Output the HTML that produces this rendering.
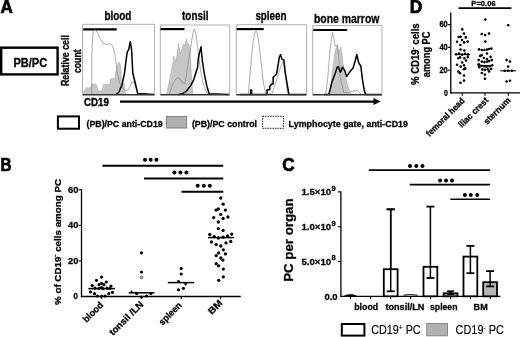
<!DOCTYPE html>
<html><head><meta charset="utf-8"><style>
html,body{margin:0;padding:0;background:#fff;width:520px;height:337px;overflow:hidden}
svg{display:block;font-family:"Liberation Sans", sans-serif;filter:blur(0.35px)}
</style></head><body>
<svg width="520" height="337" viewBox="0 0 520 337">
<text x="0.5" y="12.6" font-size="17.5" font-weight="bold" text-anchor="start" fill="#000" stroke="#000" stroke-width="0.7" textLength="12.3" lengthAdjust="spacingAndGlyphs" >A</text>
<rect x="1.2" y="47.7" width="56.4" height="26.7" fill="none" stroke="#000" stroke-width="2.4"/>
<text x="13.4" y="66.5" font-size="12" font-weight="bold" text-anchor="start" fill="#000" stroke="#000" stroke-width="0.28" textLength="33.8" lengthAdjust="spacingAndGlyphs" >PB/PC</text>
<text x="68.6" y="60.6" font-size="10.3" font-weight="bold" text-anchor="middle" fill="#000" stroke="#000" stroke-width="0.35" textLength="51" lengthAdjust="spacingAndGlyphs" transform="rotate(-90 68.6 60.6)" >Relative cell</text>
<text x="80.6" y="61.2" font-size="10.3" font-weight="bold" text-anchor="middle" fill="#000" stroke="#000" stroke-width="0.35" textLength="23.6" lengthAdjust="spacingAndGlyphs" transform="rotate(-90 80.6 61.2)" >count</text>
<path d="M82.5,94.8 L82.5,24.3 L154.6,24.3 L154.6,94.8" fill="none" stroke="#b0b0b0" stroke-width="1"/>
<path d="M160.3,94.8 L160.3,25.0 L229.7,25.0 L229.7,94.8" fill="none" stroke="#b0b0b0" stroke-width="1"/>
<path d="M236.3,94.8 L236.3,24.7 L306.6,24.7 L306.6,94.8" fill="none" stroke="#b0b0b0" stroke-width="1"/>
<path d="M312.7,94.8 L312.7,25.4 L382.0,25.4 L382.0,94.8" fill="none" stroke="#b0b0b0" stroke-width="1"/>
<text x="104.4" y="20.4" font-size="11.9" font-weight="bold" text-anchor="start" fill="#000" stroke="#000" stroke-width="0.28" textLength="27" lengthAdjust="spacingAndGlyphs" >blood</text>
<text x="182" y="20.4" font-size="11.9" font-weight="bold" text-anchor="start" fill="#000" stroke="#000" stroke-width="0.28" textLength="26.5" lengthAdjust="spacingAndGlyphs" >tonsil</text>
<text x="255.4" y="20.1" font-size="11.9" font-weight="bold" text-anchor="start" fill="#000" stroke="#000" stroke-width="0.28" textLength="31" lengthAdjust="spacingAndGlyphs" >spleen</text>
<text x="313.9" y="22.5" font-size="11.9" font-weight="bold" text-anchor="start" fill="#000" stroke="#000" stroke-width="0.28" textLength="65.5" lengthAdjust="spacingAndGlyphs" >bone marrow</text>
<line x1="83.2" y1="29.4" x2="116.7" y2="29.4" stroke="#000" stroke-width="2.2" />
<line x1="160.5" y1="29.1" x2="184.5" y2="29.1" stroke="#000" stroke-width="2.2" />
<line x1="236.6" y1="29.1" x2="263.7" y2="29.1" stroke="#000" stroke-width="2.2" />
<line x1="313.2" y1="30.0" x2="347.2" y2="30.0" stroke="#000" stroke-width="2.2" />
<path d="M83.0,94.8 L83.4,92.0 L84.0,91.5 L86.3,87.8 L90.5,87.8 L91.7,84.2 L96.0,84.2 L97.2,87.8 L98.4,90.9 L102.1,90.9 L103.3,84.2 L110.0,84.2 L110.6,78.7 L114.8,78.7 L116.0,70.8 L117.9,64.1 L119.1,61.7 L120.7,66.0 L121.5,79.3 L122.8,84.2 L124.0,83.0 L125.2,91.5 L126.0,94.8" fill="#c6c6c6" stroke="#b0b0b0" stroke-width="0.6" stroke-linejoin="round" />
<path d="M91.8,94.8 L91.8,60.0 L92.4,40.0 L93.2,31.5 L94.7,29.5 L96.0,30.5 L97.5,32.7 L100.3,38.9 L103.1,43.4 L106.0,44.2 L110.4,44.0 L112.0,45.0 L113.3,47.9 L115.3,56.6 L117.3,73.2 L119.7,83.0 L122.8,87.8 L125.0,90.5 L128.6,89.8 L131.0,84.0 L133.6,81.5 L136.0,88.0 L138.6,94.8" fill="none" stroke="#8a8a8a" stroke-width="0.7" stroke-linejoin="round" />
<path d="M116.0,94.8 L119.0,92.0 L122.0,84.9 L124.5,73.2 L126.1,60.0 L127.3,51.6 L128.6,50.0 L130.3,41.7 L131.6,50.0 L132.8,73.2 L135.3,83.2 L137.7,93.6 L154.0,94.6" fill="none" stroke="#000" stroke-width="1.5" stroke-linejoin="round" />
<path d="M166.5,94.8 L168.0,88.0 L170.0,78.0 L171.5,70.0 L172.7,65.0 L173.9,56.1 L175.0,60.0 L175.7,62.0 L177.0,55.0 L178.6,44.3 L179.5,50.0 L180.4,53.8 L182.0,49.0 L183.4,44.3 L184.5,46.0 L185.5,42.0 L186.3,38.9 L187.5,43.0 L188.5,44.0 L189.3,45.4 L190.5,53.8 L191.1,70.0 L192.0,85.0 L193.0,94.8" fill="#c6c6c6" stroke="#a8a8a8" stroke-width="0.6" stroke-linejoin="round" />
<path d="M169.3,94.8 L172.0,86.0 L175.0,80.0 L177.7,77.7 L180.0,79.0 L182.0,82.0 L184.5,84.0 L186.0,78.0 L187.5,68.0 L189.0,58.0 L190.2,51.0 L191.7,40.6 L193.0,33.0 L194.1,29.2 L195.2,31.0 L196.4,37.5 L198.0,51.0 L200.6,70.8 L203.0,83.0 L205.5,90.3 L208.0,94.8" fill="none" stroke="#8a8a8a" stroke-width="0.7" stroke-linejoin="round" />
<path d="M178.0,94.8 L183.0,93.5 L186.0,91.5 L190.9,85.4 L193.9,79.3 L195.7,73.2 L197.6,67.2 L198.4,58.0 L199.2,54.0 L200.0,51.0 L201.0,46.8 L201.8,55.0 L202.5,62.0 L204.2,73.2 L206.7,85.4 L209.1,93.7 L229.0,94.6" fill="none" stroke="#000" stroke-width="1.5" stroke-linejoin="round" />
<path d="M248.3,94.8 L249.5,80.0 L250.5,68.0 L251.5,58.0 L252.5,47.0 L253.5,39.0 L254.5,34.0 L255.5,31.6 L256.5,31.6 L257.5,34.0 L258.5,40.0 L259.5,48.0 L260.5,57.0 L261.5,66.0 L262.5,75.0 L263.5,83.0 L264.8,90.0 L266.0,94.8 L272.3,93.0 L276.0,82.0 L280.6,66.6 L283.1,61.6 L285.0,72.0 L287.3,93.0 L289.0,94.8" fill="none" stroke="#8a8a8a" stroke-width="0.7" stroke-linejoin="round" />
<path d="M240.0,94.6 L250.6,94.6 L250.6,90.0 L251.6,90.0 L251.6,94.6 L267.0,94.6 L267.0,89.8 L269.8,89.8 L269.8,86.5 L271.5,84.0 L273.1,84.0 L273.1,77.4 L274.8,75.7 L276.5,74.0 L278.1,65.0 L279.3,57.4 L280.6,54.6 L281.9,59.1 L283.9,60.0 L285.3,73.2 L287.3,84.9 L288.9,94.4 L306.0,94.6" fill="none" stroke="#000" stroke-width="1.5" stroke-linejoin="round" />
<path d="M329.9,94.8 L332.0,75.0 L334.1,58.7 L335.5,50.0 L337.3,45.0 L339.0,51.3 L341.0,47.1 L342.0,55.0 L343.6,67.1 L345.5,77.0 L347.8,86.0 L351.0,94.8" fill="#c6c6c6" stroke="#a8a8a8" stroke-width="0.6" stroke-linejoin="round" />
<path d="M325.7,94.8 L328.0,75.0 L330.0,50.0 L332.4,32.4 L333.8,38.0 L335.2,46.0 L337.3,45.0 L338.5,55.0 L340.4,77.6 L343.6,92.4 L348.0,93.0 L352.0,91.5 L355.2,90.3 L358.0,91.0 L361.5,94.8" fill="none" stroke="#8a8a8a" stroke-width="0.7" stroke-linejoin="round" />
<path d="M324.0,94.6 L328.8,94.6 L332.0,81.8 L335.2,73.4 L337.3,67.1 L338.3,66.7 L340.4,72.4 L342.5,67.1 L344.6,70.3 L346.7,76.6 L348.8,73.4 L351.0,70.3 L353.0,68.2 L355.2,60.8 L356.8,54.5 L358.7,62.9 L360.8,66.0 L362.5,79.7 L364.2,90.3 L365.7,94.4 L381.0,94.6" fill="none" stroke="#000" stroke-width="1.5" stroke-linejoin="round" />
<line x1="82.5" y1="94.8" x2="154.6" y2="94.8" stroke="#333" stroke-width="1.4" />
<line x1="160.3" y1="94.8" x2="229.7" y2="94.8" stroke="#333" stroke-width="1.4" />
<line x1="236.3" y1="94.8" x2="306.6" y2="94.8" stroke="#333" stroke-width="1.4" />
<line x1="312.7" y1="94.8" x2="382.0" y2="94.8" stroke="#333" stroke-width="1.4" />
<text x="84.0" y="106.0" font-size="10.6" font-weight="bold" text-anchor="start" fill="#000" stroke="#000" stroke-width="0.4" textLength="24.8" lengthAdjust="spacingAndGlyphs" >CD19</text>
<line x1="120" y1="101.6" x2="375" y2="101.6" stroke="#000" stroke-width="2.1" />
<path d="M373.5,98.1 L380.8,101.6 L373.5,105.1 Z" fill="#000"/>
<rect x="57.9" y="116.4" width="21.1" height="12.3" fill="#fff" stroke="#000" stroke-width="2"/>
<text x="86.5" y="126.8" font-size="8.9" font-weight="bold" text-anchor="start" fill="#000" stroke="#000" stroke-width="0.28" textLength="76.2" lengthAdjust="spacingAndGlyphs" >(PB)/PC anti-CD19</text>
<rect x="166.4" y="116.5" width="20.2" height="11.5" fill="#b0b0b0" stroke="#808080" stroke-width="1"/>
<text x="191.9" y="126.8" font-size="8.9" font-weight="bold" text-anchor="start" fill="#000" stroke="#000" stroke-width="0.28" textLength="65.1" lengthAdjust="spacingAndGlyphs" >(PB)/PC control</text>
<rect x="262.6" y="116.3" width="20.9" height="12" fill="#fff" stroke="#000" stroke-width="0.9" stroke-dasharray="1.5,1"/>
<text x="288.6" y="126.8" font-size="8.9" font-weight="bold" text-anchor="start" fill="#000" stroke="#000" stroke-width="0.28" textLength="119.4" lengthAdjust="spacingAndGlyphs" >Lymphocyte gate, anti-CD19</text>
<text x="409.8" y="12.8" font-size="17.5" font-weight="bold" text-anchor="start" fill="#000" stroke="#000" stroke-width="0.7" textLength="12.5" lengthAdjust="spacingAndGlyphs" >D</text>
<text x="471.3" y="5.7" font-size="8" font-weight="bold" text-anchor="start" fill="#000" stroke="#000" stroke-width="0.28" textLength="24.4" lengthAdjust="spacingAndGlyphs" >P=0.06</text>
<line x1="458.5" y1="8.1" x2="511.4" y2="8.1" stroke="#000" stroke-width="1.8" />
<line x1="450.8" y1="12.5" x2="450.8" y2="93.60000000000001" stroke="#000" stroke-width="1.3" />
<line x1="450.2" y1="92.9" x2="520" y2="92.9" stroke="#000" stroke-width="1.3" />
<line x1="447.8" y1="70.14000000000001" x2="450.8" y2="70.14000000000001" stroke="#000" stroke-width="1.1" />
<line x1="447.8" y1="47.38000000000001" x2="450.8" y2="47.38000000000001" stroke="#000" stroke-width="1.1" />
<line x1="447.8" y1="24.620000000000005" x2="450.8" y2="24.620000000000005" stroke="#000" stroke-width="1.1" />
<line x1="462.2" y1="92.9" x2="462.2" y2="95.7" stroke="#000" stroke-width="1.1" />
<line x1="485" y1="92.9" x2="485" y2="95.7" stroke="#000" stroke-width="1.1" />
<line x1="508.3" y1="92.9" x2="508.3" y2="95.7" stroke="#000" stroke-width="1.1" />
<text x="447.8" y="27.020000000000003" font-size="8.6" font-weight="bold" text-anchor="end" fill="#000" stroke="#000" stroke-width="0.28" textLength="8.4" lengthAdjust="spacingAndGlyphs" >60</text>
<text x="447.8" y="49.78000000000001" font-size="8.6" font-weight="bold" text-anchor="end" fill="#000" stroke="#000" stroke-width="0.28" textLength="8.4" lengthAdjust="spacingAndGlyphs" >40</text>
<text x="447.8" y="72.54000000000002" font-size="8.6" font-weight="bold" text-anchor="end" fill="#000" stroke="#000" stroke-width="0.28" textLength="8.4" lengthAdjust="spacingAndGlyphs" >20</text>
<text x="447.9" y="95.60000000000001" font-size="8.6" font-weight="bold" text-anchor="end" fill="#000" stroke="#000" stroke-width="0.28" textLength="3.9" lengthAdjust="spacingAndGlyphs" >0</text>
<text x="418.6" y="54.2" font-size="10.2" font-weight="bold" text-anchor="middle" fill="#000" stroke="#000" stroke-width="0.28" textLength="61.7" lengthAdjust="spacingAndGlyphs" transform="rotate(-90 418.6 54.2)" >% CD19<tspan font-size="6.2" dy="-3.9">-</tspan><tspan dy="3.9"> cells</tspan></text>
<text x="429.6" y="54.4" font-size="10.2" font-weight="bold" text-anchor="middle" fill="#000" stroke="#000" stroke-width="0.28" textLength="45.6" lengthAdjust="spacingAndGlyphs" transform="rotate(-90 429.6 54.4)" >among PC</text>
<text x="465.3" y="101.3" font-size="8.8" font-weight="bold" text-anchor="end" fill="#000" stroke="#000" stroke-width="0.28" textLength="50.5" lengthAdjust="spacingAndGlyphs" transform="rotate(-45 465.3 101.3)" >femoral head</text>
<text x="489.1" y="100.9" font-size="8.8" font-weight="bold" text-anchor="end" fill="#000" stroke="#000" stroke-width="0.28" textLength="38.5" lengthAdjust="spacingAndGlyphs" transform="rotate(-45 489.1 100.9)" >iliac crest</text>
<text x="511.2" y="100.9" font-size="8.8" font-weight="bold" text-anchor="end" fill="#000" stroke="#000" stroke-width="0.28" textLength="34" lengthAdjust="spacingAndGlyphs" transform="rotate(-45 511.2 100.9)" >sternum</text>
<circle cx="462.3" cy="29.4" r="1.3" fill="#000"/>
<circle cx="464" cy="33.6" r="1.3" fill="#000"/>
<circle cx="458.7" cy="37.1" r="1.3" fill="#000"/>
<circle cx="460.7" cy="36.7" r="1.3" fill="#000"/>
<circle cx="465.8" cy="37.4" r="1.3" fill="#000"/>
<circle cx="462" cy="40" r="1.3" fill="#000"/>
<circle cx="457.1" cy="41.8" r="1.3" fill="#000"/>
<circle cx="464" cy="42.4" r="1.3" fill="#000"/>
<circle cx="467.6" cy="41.6" r="1.3" fill="#000"/>
<circle cx="460.4" cy="45" r="1.3" fill="#000"/>
<circle cx="460.6" cy="49.5" r="1.3" fill="#000"/>
<circle cx="464.3" cy="50.5" r="1.3" fill="#000"/>
<circle cx="456" cy="54.2" r="1.3" fill="#000"/>
<circle cx="459" cy="53.6" r="1.3" fill="#000"/>
<circle cx="462" cy="54.6" r="1.3" fill="#000"/>
<circle cx="465" cy="53.8" r="1.3" fill="#000"/>
<circle cx="468" cy="54.4" r="1.3" fill="#000"/>
<circle cx="458.3" cy="58.3" r="1.3" fill="#000"/>
<circle cx="460.1" cy="57.4" r="1.3" fill="#000"/>
<circle cx="464.3" cy="58.3" r="1.3" fill="#000"/>
<circle cx="466" cy="60.5" r="1.3" fill="#000"/>
<circle cx="467.8" cy="57.1" r="1.3" fill="#000"/>
<circle cx="462.2" cy="62.5" r="1.3" fill="#000"/>
<circle cx="457.1" cy="64.8" r="1.3" fill="#000"/>
<circle cx="460.7" cy="66.6" r="1.3" fill="#000"/>
<circle cx="464" cy="65.4" r="1.3" fill="#000"/>
<circle cx="465.2" cy="68.4" r="1.3" fill="#000"/>
<circle cx="464" cy="69.2" r="1.3" fill="#000"/>
<circle cx="458.3" cy="71.6" r="1.3" fill="#000"/>
<circle cx="460.1" cy="73.2" r="1.3" fill="#000"/>
<circle cx="464" cy="75.5" r="1.3" fill="#000"/>
<circle cx="464" cy="80.6" r="1.3" fill="#000"/>
<circle cx="460.5" cy="82.7" r="1.3" fill="#000"/>
<circle cx="485.4" cy="19.6" r="1.3" fill="#000"/>
<circle cx="481.7" cy="34" r="1.3" fill="#000"/>
<circle cx="485.1" cy="35" r="1.3" fill="#000"/>
<circle cx="489" cy="33.6" r="1.3" fill="#000"/>
<circle cx="485.4" cy="41.6" r="1.3" fill="#000"/>
<circle cx="479" cy="49.4" r="1.3" fill="#000"/>
<circle cx="481.8" cy="50" r="1.3" fill="#000"/>
<circle cx="484.4" cy="50" r="1.3" fill="#000"/>
<circle cx="487" cy="49.6" r="1.3" fill="#000"/>
<circle cx="489.1" cy="49" r="1.3" fill="#000"/>
<circle cx="491.4" cy="48.6" r="1.3" fill="#000"/>
<circle cx="487" cy="53.5" r="1.3" fill="#000"/>
<circle cx="480.2" cy="55.9" r="1.3" fill="#000"/>
<circle cx="481.8" cy="55.2" r="1.3" fill="#000"/>
<circle cx="483.9" cy="58" r="1.3" fill="#000"/>
<circle cx="490.6" cy="56.9" r="1.3" fill="#000"/>
<circle cx="487" cy="59" r="1.3" fill="#000"/>
<circle cx="478.7" cy="60.1" r="1.3" fill="#000"/>
<circle cx="491.7" cy="60.1" r="1.3" fill="#000"/>
<circle cx="481.8" cy="61.6" r="1.3" fill="#000"/>
<circle cx="484.4" cy="62.1" r="1.3" fill="#000"/>
<circle cx="487" cy="61.6" r="1.3" fill="#000"/>
<circle cx="489.1" cy="61.1" r="1.3" fill="#000"/>
<circle cx="478.7" cy="64.2" r="1.3" fill="#000"/>
<circle cx="481.3" cy="65.8" r="1.3" fill="#000"/>
<circle cx="483.9" cy="66.3" r="1.3" fill="#000"/>
<circle cx="486.5" cy="66.8" r="1.3" fill="#000"/>
<circle cx="489.6" cy="66.3" r="1.3" fill="#000"/>
<circle cx="492.2" cy="65.2" r="1.3" fill="#000"/>
<circle cx="479.2" cy="67.3" r="1.3" fill="#000"/>
<circle cx="482.3" cy="69.4" r="1.3" fill="#000"/>
<circle cx="484.9" cy="69.9" r="1.3" fill="#000"/>
<circle cx="488" cy="69.4" r="1.3" fill="#000"/>
<circle cx="491.1" cy="68.9" r="1.3" fill="#000"/>
<circle cx="489.1" cy="71.5" r="1.3" fill="#000"/>
<circle cx="481.8" cy="73" r="1.3" fill="#000"/>
<circle cx="484.9" cy="74.6" r="1.3" fill="#000"/>
<circle cx="484.9" cy="78.7" r="1.3" fill="#000"/>
<circle cx="508.2" cy="25.2" r="1.3" fill="#000"/>
<circle cx="506.6" cy="60.1" r="1.3" fill="#000"/>
<circle cx="510" cy="61.6" r="1.3" fill="#000"/>
<circle cx="508.1" cy="66.6" r="1.3" fill="#000"/>
<circle cx="504.8" cy="70.8" r="1.3" fill="#000"/>
<circle cx="508.1" cy="70.8" r="1.3" fill="#000"/>
<circle cx="512" cy="70.8" r="1.3" fill="#000"/>
<circle cx="506.6" cy="81.5" r="1.3" fill="#000"/>
<circle cx="510" cy="80.7" r="1.3" fill="#000"/>
<line x1="454.7" y1="54.6" x2="470" y2="54.6" stroke="#000" stroke-width="1.1" />
<line x1="477.5" y1="65.6" x2="493" y2="65.6" stroke="#000" stroke-width="1.1" />
<line x1="500.4" y1="70.8" x2="516" y2="70.8" stroke="#000" stroke-width="1.1" />
<text x="0.5" y="170.8" font-size="17.5" font-weight="bold" text-anchor="start" fill="#000" stroke="#000" stroke-width="0.7" textLength="11" lengthAdjust="spacingAndGlyphs" >B</text>
<line x1="81.5" y1="189.30200000000002" x2="81.5" y2="297.1" stroke="#000" stroke-width="1.3" />
<line x1="80.9" y1="296.5" x2="240.7" y2="296.5" stroke="#000" stroke-width="1.3" />
<line x1="78.5" y1="260.93399999999997" x2="81.5" y2="260.93399999999997" stroke="#000" stroke-width="1.1" />
<line x1="78.5" y1="225.368" x2="81.5" y2="225.368" stroke="#000" stroke-width="1.1" />
<line x1="78.5" y1="189.80200000000002" x2="81.5" y2="189.80200000000002" stroke="#000" stroke-width="1.1" />
<line x1="101.6" y1="296.5" x2="101.6" y2="299.1" stroke="#000" stroke-width="1.1" />
<line x1="141.5" y1="296.5" x2="141.5" y2="299.1" stroke="#000" stroke-width="1.1" />
<line x1="181.2" y1="296.5" x2="181.2" y2="299.1" stroke="#000" stroke-width="1.1" />
<line x1="220.6" y1="296.5" x2="220.6" y2="299.1" stroke="#000" stroke-width="1.1" />
<text x="78.5" y="192.60200000000003" font-size="9.3" font-weight="bold" text-anchor="end" fill="#000" stroke="#000" stroke-width="0.28" textLength="10.4" lengthAdjust="spacingAndGlyphs" >60</text>
<text x="78.5" y="228.168" font-size="9.3" font-weight="bold" text-anchor="end" fill="#000" stroke="#000" stroke-width="0.28" textLength="10.4" lengthAdjust="spacingAndGlyphs" >40</text>
<text x="78.5" y="263.734" font-size="9.3" font-weight="bold" text-anchor="end" fill="#000" stroke="#000" stroke-width="0.28" textLength="10.4" lengthAdjust="spacingAndGlyphs" >20</text>
<text x="78.0" y="299.2" font-size="9.3" font-weight="bold" text-anchor="end" fill="#000" stroke="#000" stroke-width="0.28" textLength="4.4" lengthAdjust="spacingAndGlyphs" >0</text>
<text x="61" y="242" font-size="9.2" font-weight="bold" text-anchor="middle" fill="#000" stroke="#000" stroke-width="0.28" textLength="126" lengthAdjust="spacingAndGlyphs" transform="rotate(-90 61 242)" >% of CD19<tspan font-size="6" dy="-3.8">-</tspan><tspan dy="3.8"> cells among PC</tspan></text>
<line x1="102.4" y1="165.7" x2="223.3" y2="165.7" stroke="#000" stroke-width="2" />
<circle cx="145" cy="159.7" r="2.0" fill="#000"/>
<circle cx="150.65" cy="159.7" r="2.0" fill="#000"/>
<circle cx="156.4" cy="159.7" r="2.0" fill="#000"/>
<line x1="144" y1="178.6" x2="223.3" y2="178.6" stroke="#000" stroke-width="2" />
<circle cx="174.4" cy="172.6" r="2.0" fill="#000"/>
<circle cx="180.4" cy="172.6" r="2.0" fill="#000"/>
<circle cx="186.4" cy="172.6" r="2.0" fill="#000"/>
<line x1="181.5" y1="191.8" x2="223.3" y2="191.8" stroke="#000" stroke-width="2" />
<circle cx="197.7" cy="185.8" r="2.0" fill="#000"/>
<circle cx="203.8" cy="185.8" r="2.0" fill="#000"/>
<circle cx="209.8" cy="185.8" r="2.0" fill="#000"/>
<circle cx="101.6" cy="277.1" r="1.6" fill="#000"/>
<circle cx="96.5" cy="280.3" r="1.6" fill="#000"/>
<circle cx="106.3" cy="282" r="1.6" fill="#000"/>
<circle cx="99" cy="284.7" r="1.6" fill="#000"/>
<circle cx="101.6" cy="283.4" r="1.6" fill="#000"/>
<circle cx="103.9" cy="284.7" r="1.6" fill="#000"/>
<circle cx="92.3" cy="285.6" r="1.6" fill="#000"/>
<circle cx="111" cy="286" r="1.6" fill="#000"/>
<circle cx="95" cy="288.2" r="1.6" fill="#000"/>
<circle cx="99" cy="288.4" r="1.6" fill="#000"/>
<circle cx="103" cy="288.6" r="1.6" fill="#000"/>
<circle cx="107" cy="288.2" r="1.6" fill="#000"/>
<circle cx="110" cy="288.4" r="1.6" fill="#000"/>
<circle cx="101.6" cy="287.6" r="1.6" fill="#000"/>
<circle cx="90.5" cy="291.9" r="1.6" fill="#000"/>
<circle cx="94.5" cy="293.7" r="1.6" fill="#000"/>
<circle cx="108.8" cy="293.7" r="1.6" fill="#000"/>
<circle cx="112.4" cy="292.3" r="1.6" fill="#000"/>
<circle cx="97.5" cy="296" r="1.6" fill="#000"/>
<circle cx="101.5" cy="296.3" r="1.6" fill="#000"/>
<circle cx="105" cy="296" r="1.6" fill="#000"/>
<line x1="88.3" y1="288.6" x2="115" y2="288.6" stroke="#000" stroke-width="1.5" />
<circle cx="141.5" cy="252.8" r="1.6" fill="#000"/>
<circle cx="141.5" cy="272" r="1.6" fill="#000"/>
<circle cx="136.7" cy="293.4" r="1.6" fill="#000"/>
<circle cx="150.9" cy="293.4" r="1.6" fill="#000"/>
<circle cx="141.5" cy="297" r="1.6" fill="#000"/>
<circle cx="146.5" cy="296" r="1.6" fill="#000"/>
<circle cx="141.5" cy="277.4" r="1.4" fill="#aaa" stroke="#555" stroke-width="0.7"/>
<path d="M129.6,293 L131.4,290 L133.2,293 Z" fill="#000"/>
<line x1="128.7" y1="292.8" x2="154.5" y2="292.8" stroke="#000" stroke-width="1.5" />
<circle cx="181.2" cy="268.5" r="1.6" fill="#000"/>
<circle cx="181.2" cy="274" r="1.6" fill="#000"/>
<circle cx="178.5" cy="281.5" r="1.6" fill="#000"/>
<circle cx="178.5" cy="289.8" r="1.6" fill="#000"/>
<circle cx="183.4" cy="288.3" r="1.6" fill="#000"/>
<path d="M183.6,283.2 L187.6,283.2 L185.6,286 Z" fill="#000"/>
<line x1="167.8" y1="282.6" x2="194.2" y2="282.6" stroke="#000" stroke-width="1.5" />
<circle cx="220.8" cy="198" r="1.65" fill="#000"/>
<circle cx="223.1" cy="204.2" r="1.65" fill="#000"/>
<circle cx="216" cy="210.1" r="1.65" fill="#000"/>
<circle cx="218.3" cy="209" r="1.65" fill="#000"/>
<circle cx="225.4" cy="210.1" r="1.65" fill="#000"/>
<circle cx="220.8" cy="214.4" r="1.65" fill="#000"/>
<circle cx="213.7" cy="217.6" r="1.65" fill="#000"/>
<circle cx="223.1" cy="218.5" r="1.65" fill="#000"/>
<circle cx="227.9" cy="217" r="1.65" fill="#000"/>
<circle cx="218.3" cy="222" r="1.65" fill="#000"/>
<circle cx="218.3" cy="228.6" r="1.65" fill="#000"/>
<circle cx="223.1" cy="230.4" r="1.65" fill="#000"/>
<circle cx="209.8" cy="234.5" r="1.65" fill="#000"/>
<circle cx="214.2" cy="236.6" r="1.65" fill="#000"/>
<circle cx="218.3" cy="238" r="1.65" fill="#000"/>
<circle cx="223.1" cy="237.2" r="1.65" fill="#000"/>
<circle cx="227.6" cy="236" r="1.65" fill="#000"/>
<circle cx="231.7" cy="234.1" r="1.65" fill="#000"/>
<circle cx="211.4" cy="241.9" r="1.65" fill="#000"/>
<circle cx="216.2" cy="244.6" r="1.65" fill="#000"/>
<circle cx="220.8" cy="246" r="1.65" fill="#000"/>
<circle cx="226" cy="242.9" r="1.65" fill="#000"/>
<circle cx="230.8" cy="241.4" r="1.65" fill="#000"/>
<circle cx="223.3" cy="249.8" r="1.65" fill="#000"/>
<circle cx="218.7" cy="252.9" r="1.65" fill="#000"/>
<circle cx="225.4" cy="253.9" r="1.65" fill="#000"/>
<circle cx="216.2" cy="255.6" r="1.65" fill="#000"/>
<circle cx="220.8" cy="258" r="1.65" fill="#000"/>
<circle cx="222.9" cy="260.1" r="1.65" fill="#000"/>
<circle cx="216.2" cy="263.7" r="1.65" fill="#000"/>
<circle cx="218.7" cy="265.8" r="1.65" fill="#000"/>
<circle cx="223.3" cy="269.1" r="1.65" fill="#000"/>
<circle cx="223.3" cy="276.8" r="1.65" fill="#000"/>
<circle cx="218.7" cy="280.3" r="1.65" fill="#000"/>
<line x1="208" y1="237.6" x2="233.8" y2="237.6" stroke="#000" stroke-width="1.5" />
<text x="103.8" y="305.6" font-size="9.4" font-weight="bold" text-anchor="end" fill="#000" stroke="#000" stroke-width="0.28" textLength="24.5" lengthAdjust="spacingAndGlyphs" transform="rotate(-45 103.8 305.6)" >blood</text>
<text x="144.0" y="305.0" font-size="9.4" font-weight="bold" text-anchor="end" fill="#000" stroke="#000" stroke-width="0.28" textLength="44" lengthAdjust="spacingAndGlyphs" transform="rotate(-45 144.0 305.0)" >tonsil /LN</text>
<text x="182.4" y="306.0" font-size="9.4" font-weight="bold" text-anchor="end" fill="#000" stroke="#000" stroke-width="0.28" textLength="28" lengthAdjust="spacingAndGlyphs" transform="rotate(-45 182.4 306.0)" >spleen</text>
<text x="223.0" y="303.6" font-size="9.4" font-weight="bold" text-anchor="end" fill="#000" stroke="#000" stroke-width="0.28" textLength="16" lengthAdjust="spacingAndGlyphs" transform="rotate(-45 223.0 303.6)" >BM</text>
<text x="282.3" y="170.9" font-size="17.5" font-weight="bold" text-anchor="start" fill="#000" stroke="#000" stroke-width="0.7" textLength="12.3" lengthAdjust="spacingAndGlyphs" >C</text>
<line x1="340.9" y1="191.3" x2="340.9" y2="296.90000000000003" stroke="#000" stroke-width="1.3" />
<line x1="340.29999999999995" y1="296.3" x2="500.4" y2="296.3" stroke="#000" stroke-width="1.3" />
<line x1="337.9" y1="261.5" x2="340.9" y2="261.5" stroke="#000" stroke-width="1.1" />
<line x1="337.9" y1="226.70000000000002" x2="340.9" y2="226.70000000000002" stroke="#000" stroke-width="1.1" />
<line x1="337.9" y1="191.90000000000003" x2="340.9" y2="191.90000000000003" stroke="#000" stroke-width="1.1" />
<line x1="350.5" y1="296.3" x2="350.5" y2="299.1" stroke="#000" stroke-width="1.1" />
<line x1="370.6" y1="296.3" x2="370.6" y2="299.1" stroke="#000" stroke-width="1.1" />
<line x1="390.7" y1="296.3" x2="390.7" y2="299.1" stroke="#000" stroke-width="1.1" />
<line x1="410.6" y1="296.3" x2="410.6" y2="299.1" stroke="#000" stroke-width="1.1" />
<line x1="430.6" y1="296.3" x2="430.6" y2="299.1" stroke="#000" stroke-width="1.1" />
<line x1="450.6" y1="296.3" x2="450.6" y2="299.1" stroke="#000" stroke-width="1.1" />
<line x1="470.5" y1="296.3" x2="470.5" y2="299.1" stroke="#000" stroke-width="1.1" />
<line x1="490.2" y1="296.3" x2="490.2" y2="299.1" stroke="#000" stroke-width="1.1" />
<text x="301.4" y="195.00000000000003" font-size="9.6" font-weight="bold" text-anchor="start" fill="#000" stroke="#000" stroke-width="0.28" textLength="29.8" lengthAdjust="spacingAndGlyphs" >1.5×10</text>
<text x="331.5" y="190.70000000000005" font-size="6.6" font-weight="bold" text-anchor="start" fill="#000" stroke="#000" stroke-width="0.28" textLength="4.2" lengthAdjust="spacingAndGlyphs" >9</text>
<text x="301.4" y="229.8" font-size="9.6" font-weight="bold" text-anchor="start" fill="#000" stroke="#000" stroke-width="0.28" textLength="29.8" lengthAdjust="spacingAndGlyphs" >1.0×10</text>
<text x="331.5" y="225.50000000000003" font-size="6.6" font-weight="bold" text-anchor="start" fill="#000" stroke="#000" stroke-width="0.28" textLength="4.2" lengthAdjust="spacingAndGlyphs" >9</text>
<text x="301.4" y="264.6" font-size="9.6" font-weight="bold" text-anchor="start" fill="#000" stroke="#000" stroke-width="0.28" textLength="29.8" lengthAdjust="spacingAndGlyphs" >5.0×10</text>
<text x="331.5" y="260.3" font-size="6.6" font-weight="bold" text-anchor="start" fill="#000" stroke="#000" stroke-width="0.28" textLength="4.2" lengthAdjust="spacingAndGlyphs" >8</text>
<text x="337.6" y="299.5" font-size="9.8" font-weight="bold" text-anchor="end" fill="#000" stroke="#000" stroke-width="0.28" textLength="13.2" lengthAdjust="spacingAndGlyphs" >0.0</text>
<text x="293.2" y="240.1" font-size="13.5" font-weight="bold" text-anchor="middle" fill="#000" stroke="#000" stroke-width="0.28" textLength="83.3" lengthAdjust="spacingAndGlyphs" transform="rotate(-90 293.2 240.1)" >PC per organ</text>
<path d="M344.5,296 Q346,294.6 350.5,294.5 Q355,294.6 356.5,296 Z" fill="#000" stroke="#000" stroke-width="0.6"/>
<path d="M383,295.2 Q390,293.8 397,295.2" fill="none" stroke="#000" stroke-width="0.8"/>
<line x1="390.7" y1="209.3" x2="390.7" y2="291.3" stroke="#000" stroke-width="1.5" />
<line x1="386.7" y1="209.3" x2="394.7" y2="209.3" stroke="#000" stroke-width="1.8" />
<line x1="386.7" y1="291.3" x2="394.7" y2="291.3" stroke="#000" stroke-width="1.8" />
<rect x="383.8" y="269.2" width="13.8" height="27.100000000000023" fill="#fff" stroke="#000" stroke-width="1.8"/>
<line x1="390.7" y1="209.3" x2="390.7" y2="291.3" stroke="#000" stroke-width="1.5" />
<line x1="386.7" y1="209.3" x2="394.7" y2="209.3" stroke="#000" stroke-width="1.8" />
<line x1="386.7" y1="291.3" x2="394.7" y2="291.3" stroke="#000" stroke-width="1.8" />
<path d="M403.6,295.2 Q410.6,293.9 417.6,295.2" fill="none" stroke="#000" stroke-width="1"/>
<rect x="423.5" y="266.8" width="13.8" height="29.5" fill="#fff" stroke="#000" stroke-width="1.8"/>
<line x1="430.4" y1="206.6" x2="430.4" y2="278" stroke="#000" stroke-width="1.5" />
<line x1="426.4" y1="206.6" x2="434.4" y2="206.6" stroke="#000" stroke-width="1.8" />
<line x1="426.4" y1="278" x2="434.4" y2="278" stroke="#000" stroke-width="1.8" />
<rect x="443.70000000000005" y="293.3" width="13.8" height="3.0" fill="#b5b5b5" stroke="#000" stroke-width="1.8"/>
<line x1="450.6" y1="291.3" x2="450.6" y2="294" stroke="#000" stroke-width="1.5" />
<line x1="447.1" y1="291.3" x2="454.1" y2="291.3" stroke="#000" stroke-width="1.8" />
<line x1="447.1" y1="294" x2="454.1" y2="294" stroke="#000" stroke-width="1.8" />
<rect x="463.5" y="256.6" width="13.8" height="39.69999999999999" fill="#fff" stroke="#000" stroke-width="1.8"/>
<line x1="470.4" y1="245.9" x2="470.4" y2="273.2" stroke="#000" stroke-width="1.5" />
<line x1="466.4" y1="245.9" x2="474.4" y2="245.9" stroke="#000" stroke-width="1.8" />
<line x1="466.4" y1="273.2" x2="474.4" y2="273.2" stroke="#000" stroke-width="1.8" />
<rect x="483.20000000000005" y="282.2" width="13.8" height="14.100000000000023" fill="#b5b5b5" stroke="#000" stroke-width="1.8"/>
<line x1="490.1" y1="271.1" x2="490.1" y2="286.4" stroke="#000" stroke-width="1.5" />
<line x1="486.1" y1="271.1" x2="494.1" y2="271.1" stroke="#000" stroke-width="1.8" />
<line x1="486.1" y1="286.4" x2="494.1" y2="286.4" stroke="#000" stroke-width="1.8" />
<line x1="368.8" y1="170.1" x2="490.1" y2="170.1" stroke="#000" stroke-width="1.6" />
<circle cx="410" cy="166.0" r="2.0" fill="#000"/>
<circle cx="416.3" cy="166.0" r="2.0" fill="#000"/>
<circle cx="422.5" cy="166.0" r="2.0" fill="#000"/>
<line x1="409.7" y1="184.6" x2="490.1" y2="184.6" stroke="#000" stroke-width="1.6" />
<circle cx="440.1" cy="180.5" r="2.0" fill="#000"/>
<circle cx="446" cy="180.5" r="2.0" fill="#000"/>
<circle cx="452" cy="180.5" r="2.0" fill="#000"/>
<line x1="450.3" y1="199.2" x2="490.1" y2="199.2" stroke="#000" stroke-width="1.6" />
<circle cx="464.9" cy="195.1" r="2.0" fill="#000"/>
<circle cx="470.8" cy="195.1" r="2.0" fill="#000"/>
<circle cx="477.2" cy="195.1" r="2.0" fill="#000"/>
<text x="354.2" y="310" font-size="9.3" font-weight="bold" text-anchor="start" fill="#000" stroke="#000" stroke-width="0.28" textLength="24.1" lengthAdjust="spacingAndGlyphs" >blood</text>
<text x="385.4" y="310" font-size="9.3" font-weight="bold" text-anchor="start" fill="#000" stroke="#000" stroke-width="0.28" textLength="39" lengthAdjust="spacingAndGlyphs" >tonsil/LN</text>
<text x="430" y="310" font-size="9.3" font-weight="bold" text-anchor="start" fill="#000" stroke="#000" stroke-width="0.28" textLength="27.5" lengthAdjust="spacingAndGlyphs" >spleen</text>
<text x="473.6" y="310" font-size="9.3" font-weight="bold" text-anchor="start" fill="#000" stroke="#000" stroke-width="0.28" textLength="14.1" lengthAdjust="spacingAndGlyphs" >BM</text>
<rect x="341.8" y="324" width="22.6" height="11.6" fill="#fff" stroke="#000" stroke-width="2"/>
<text x="371.2" y="334.2" font-size="12" font-weight="normal" text-anchor="start" fill="#000" stroke="#000" stroke-width="0.15" textLength="49.4" lengthAdjust="spacingAndGlyphs" >CD19<tspan font-size="7.5" dy="-4.2">+</tspan><tspan dy="4.2"> PC</tspan></text>
<rect x="426.7" y="323.5" width="20.8" height="12.3" fill="#b0b0b0" stroke="#8a8a8a" stroke-width="1"/>
<text x="455.6" y="334.2" font-size="12" font-weight="normal" text-anchor="start" fill="#000" stroke="#000" stroke-width="0.15" textLength="48.4" lengthAdjust="spacingAndGlyphs" >CD19<tspan font-size="7.5" dy="-4.2">-</tspan><tspan dy="4.2"> PC</tspan></text>
</svg>
</body></html>
